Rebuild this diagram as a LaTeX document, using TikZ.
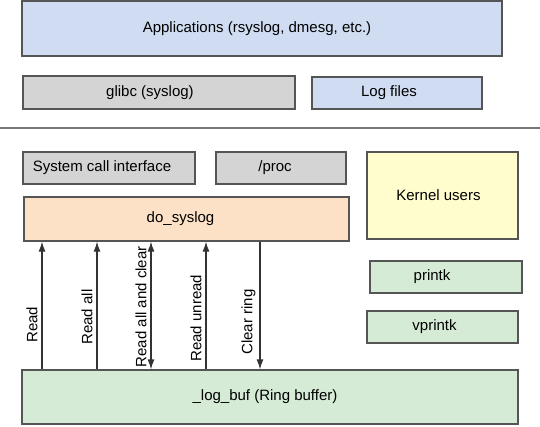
\documentclass[tikz,border=0pt]{standalone}
\usepackage{fontspec}
\usepackage{xcolor}
\usepackage{tikz}
\usetikzlibrary{
		arrows.meta,
		calc
	}
\setmainfont{Liberation Sans}
\definecolor{userspace-blue}{HTML}{CFDCF1}
\definecolor{libc-gray}{HTML}{D4D4D4}
\definecolor{syslog-peach}{HTML}{FCE1C6}
\definecolor{kernel-yellow}{HTML}{FFFCCE}
\definecolor{buffer-green}{HTML}{D5EBD5}
\definecolor{border-gray}{HTML}{555555}
\tikzset{%
		every text node part/.style = {
			align = center
		},
		layer/.style = {
			draw = border-gray,
			line width = 1.2pt,
			rectangle,
			inner sep = 0pt,
			font = \fontsize{15}{18}\selectfont
		},
		textshift/.style = {%
			execute at begin node = {\hspace*{#1}\hspace*{#1}}
		},
		tip/.tip = {Latex[length=10pt, width=7pt]},
		call/.style = {%
			draw = black!80,
			line width = 1.2pt,
			#1
		},%
		call/.default = -tip,
		calllabel/.style = {%
			rotate = 90,
			anchor = south,
			inner sep = 4pt,
			font = \fontsize{15}{18}\selectfont
		}
	}

\begin{document}
\begin{tikzpicture}[x = 1pt, y = -1pt]
		\useasboundingbox (0, 0) rectangle (540, 426);  % Keep the page at the original size
		% User space
		\node [layer, fill = userspace-blue, minimum width = 480pt, minimum height = 55pt, textshift = -5pt]
			(apps) at (262, 28.5) {Applications (rsyslog, dmesg, etc.)};
		\node [layer, fill = libc-gray, minimum width = 272pt, minimum height = 33pt, textshift = -9pt]
			(glibc) at (159, 92.5) {glibc (syslog)};
		\node [layer, fill = userspace-blue, minimum width = 170pt, minimum height = 32pt, textshift = -8pt]
			(logfiles) at (397, 93) {Log files};
		\draw [border-gray!80, line width = 1.5pt] (0, 128) -- (540, 128);
		% Kernel space
		\node [layer, fill = libc-gray, minimum width = 172pt, minimum height = 32pt, textshift = -7pt]
			(syscall) at (109, 168) {System call interface};
		\node [layer, fill = libc-gray, minimum width = 130pt, minimum height = 32pt, textshift = -6pt]
			(proc) at (281, 168) {/proc};
		\node [layer, fill = syslog-peach, minimum width = 325pt, minimum height = 44pt, textshift = -6pt]
			(dosyslog) at (186.5, 219) {do\_syslog};
		\node [layer, fill = kernel-yellow, minimum width = 151pt, minimum height = 87pt, textshift = -4pt]
			(kernelusers) at (442.5, 195.5) {Kernel users};
		\node [layer, fill = buffer-green, minimum width = 152pt, minimum height = 32pt, textshift = -14pt]
			(printk) at (446, 277) {printk};
		\node [layer, fill = buffer-green, minimum width = 151pt, minimum height = 32pt, textshift = -8pt]
			(vprintk) at (442.5, 327) {vprintk};
		\node [layer, fill = buffer-green, minimum width = 496pt, minimum height = 54pt, textshift = -5pt]
			(logbuf) at (270, 397) {\_log\_buf (Ring buffer)};
		% Actions between the buffer and do_syslog
		\coordinate (read) at (42, 0);
		\coordinate (readall) at (97, 0);
		\coordinate (readclear) at (151, 0);
		\coordinate (readunread) at (206, 0);
		\coordinate (clearring) at (260, 0);
		\draw [call] (logbuf.north -| read) -- (dosyslog.south -| read)
			node [calllabel, pos = 0.35] {Read};
		\draw [call] (logbuf.north -| readall) -- (dosyslog.south -| readall)
			node [calllabel, pos = 0.41] {Read all};
		\draw [call = tip-tip] (logbuf.north -| readclear) -- (dosyslog.south -| readclear)
			node [calllabel, pos = 0.49] {Read all and clear};
		\draw [call] (logbuf.north -| readunread) -- (dosyslog.south -| readunread)
			node [calllabel, pos = 0.40] {Read unread};
		\draw [call = tip-] (logbuf.north -| clearring) -- (dosyslog.south -| clearring)
			node [calllabel, pos = 0.37] {Clear ring};
	\end{tikzpicture}
\end{document}
